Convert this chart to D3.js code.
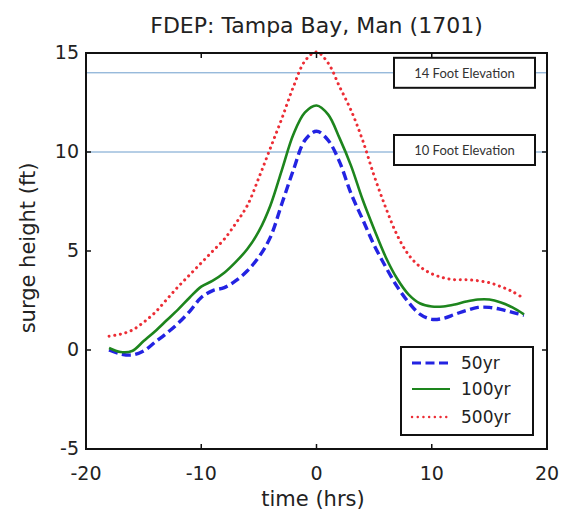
<!DOCTYPE html>
<html>
  <head>
    <meta charset="utf-8">
    <title>FDEP: Tampa Bay, Man (1701)</title>
    <script src="https://d3js.org/d3.v7.min.js"></script>
    <style>
      body { margin: 0; background: white; }
      svg { background-color: white; }
      text { font-family: "DejaVu Sans", sans-serif; fill: #222; }
      .frame { fill: none; stroke: #111; stroke-width: 2px; }
      .tick-mark { stroke: #111; stroke-width: 1.5px; }
      .elev-line { stroke: #6d9dcc; stroke-width: 1px; }
      .elev-box, .legend-box { fill: white; stroke: #111; stroke-width: 2px; }
      .elev-label { font-family: Lato, "Open Sans", sans-serif; font-size: 13px; fill: #333; }
    </style>
  </head>
  <body>
    <svg></svg>
    <script>
      //begin: data
      var times    = [-18,-17,-16,-15,-14,-13,-12,-11,-10,-9,-8,-7,-6,-5,-4,-3,-2,-1,0,
                      1,2,3,4,5,6,7,8,9,10,11,12,13,14,15,16,17,18];
      var surge50  = [0.0,-0.2,-0.25,-0.05,0.4,0.85,1.35,1.95,2.65,3.0,3.15,3.5,4.0,4.7,5.7,7.4,9.1,10.6,11.05,
                      10.6,9.5,7.9,6.6,5.3,4.2,3.2,2.4,1.8,1.55,1.6,1.8,2.0,2.15,2.15,2.05,1.9,1.75];
      var surge100 = [0.1,-0.1,-0.05,0.45,0.95,1.5,2.05,2.65,3.2,3.5,3.9,4.45,5.1,6.0,7.3,9.1,10.9,12.0,12.35,
                      11.9,10.7,9.3,7.6,6.1,4.7,3.6,2.8,2.35,2.2,2.2,2.3,2.45,2.55,2.55,2.4,2.15,1.8];
      var surge500 = [0.7,0.8,1.0,1.4,1.9,2.55,3.2,3.8,4.4,5.0,5.6,6.4,7.3,8.7,10.2,11.7,13.3,14.6,15.05,
                      14.5,13.3,12.1,10.6,8.8,7.2,5.8,4.8,4.2,3.85,3.65,3.55,3.55,3.5,3.4,3.2,2.95,2.6];
      var seriesNames = ["50yr", "100yr", "500yr"];
      var xTicks = [-20, -10, 0, 10, 20];
      var yTicks = [-5, 0, 5, 10, 15];
      var elevations = [14, 10];
      var elevationLabels = ["14 Foot Elevation", "10 Foot Elevation"];
      //end: data

      //begin: layout config.
      var svgWidth = 561,
          svgHeight = 512,
          plot = {left: 86, right: 547, top: 53, bottom: 449};
      var styles = [
        {color: "#2323e2", width: 3.4, dash: "9,4.5", cap: "butt"},
        {color: "#1d851d", width: 2.6, dash: null, cap: "butt"},
        {color: "#ec2d35", width: 3, dash: "0.1,5.6", cap: "round"}
      ];
      //end: layout config.

      var x = d3.scaleLinear().domain([-20, 20]).range([plot.left, plot.right]);
      var y = d3.scaleLinear().domain([-5, 15]).range([plot.bottom, plot.top]);

      var svg = d3.select("svg")
        .attr("width", svgWidth)
        .attr("height", svgHeight);

      // title
      svg.append("text")
        .attr("x", 316.5).attr("y", 33)
        .attr("text-anchor", "middle")
        .style("font-size", "22px")
        .text("FDEP: Tampa Bay, Man (1701)");

      // elevation reference lines
      svg.selectAll(".elev-line")
        .data(elevations)
        .enter().append("line")
          .classed("elev-line", true)
          .attr("x1", plot.left).attr("x2", plot.right)
          .attr("y1", function(d){ return y(d); })
          .attr("y2", function(d){ return y(d); });

      // series
      var allSeries = [surge50, surge100, surge500];
      var line = d3.line()
        .x(function(d, i){ return x(times[i]); })
        .y(function(d){ return y(d); })
        .curve(d3.curveCatmullRom.alpha(0.5));

      svg.append("g").selectAll("path")
        .data(allSeries)
        .enter().append("path")
          .attr("d", function(d){ return line(d); })
          .style("fill", "none")
          .style("stroke", function(d, i){ return styles[i].color; })
          .style("stroke-width", function(d, i){ return styles[i].width; })
          .style("stroke-dasharray", function(d, i){ return styles[i].dash; })
          .style("stroke-linecap", function(d, i){ return styles[i].cap; });

      // elevation label boxes
      var elevBoxes = svg.selectAll(".elev")
        .data(elevations)
        .enter().append("g")
          .attr("transform", function(d, i){ return "translate(" + [394, y(d) - (i == 0 ? 15 : 17)] + ")"; });
      elevBoxes.append("rect")
        .classed("elev-box", true)
        .attr("width", 141).attr("height", 30);
      elevBoxes.append("text")
        .classed("elev-label", true)
        .attr("x", 70.5).attr("y", 20)
        .attr("text-anchor", "middle")
        .text(function(d, i){ return elevationLabels[i]; });

      // frame
      svg.append("rect")
        .classed("frame", true)
        .attr("x", plot.left).attr("y", plot.top)
        .attr("width", plot.right - plot.left)
        .attr("height", plot.bottom - plot.top);

      // inner ticks
      var tickLen = 5;
      var innerX = xTicks.slice(1, -1), innerY = yTicks.slice(1, -1);
      innerX.forEach(function(t){
        svg.append("line").classed("tick-mark", true)
          .attr("x1", x(t)).attr("x2", x(t)).attr("y1", plot.bottom).attr("y2", plot.bottom - tickLen);
        svg.append("line").classed("tick-mark", true)
          .attr("x1", x(t)).attr("x2", x(t)).attr("y1", plot.top).attr("y2", plot.top + tickLen);
      });
      innerY.forEach(function(t){
        svg.append("line").classed("tick-mark", true)
          .attr("x1", plot.left).attr("x2", plot.left + tickLen).attr("y1", y(t)).attr("y2", y(t));
        svg.append("line").classed("tick-mark", true)
          .attr("x1", plot.right).attr("x2", plot.right - tickLen).attr("y1", y(t)).attr("y2", y(t));
      });

      // tick labels
      svg.append("g").selectAll("text")
        .data(xTicks)
        .enter().append("text")
          .attr("x", function(d){ return x(d); })
          .attr("y", 480)
          .attr("text-anchor", "middle")
          .style("font-size", "19px")
          .text(function(d){ return d < 0 ? "-" + Math.abs(d) : d; });

      svg.append("g").selectAll("text")
        .data(yTicks)
        .enter().append("text")
          .attr("x", 79)
          .attr("y", function(d){ return y(d) + 6; })
          .attr("text-anchor", "end")
          .style("font-size", "19px")
          .text(function(d){ return d < 0 ? "-" + Math.abs(d) : d; });

      // axis titles
      svg.append("text")
        .attr("x", 313).attr("y", 506)
        .attr("text-anchor", "middle")
        .style("font-size", "21px")
        .text("time (hrs)");

      svg.append("text")
        .attr("transform", "translate(35,248) rotate(-90)")
        .attr("text-anchor", "middle")
        .style("font-size", "21px")
        .text("surge height (ft)");

      // legend
      var legend = svg.append("g").attr("transform", "translate(401,347)");
      legend.append("rect")
        .classed("legend-box", true)
        .attr("width", 132).attr("height", 88);
      var rows = legend.selectAll(".row")
        .data(seriesNames)
        .enter().append("g")
          .attr("transform", function(d, i){ return "translate(0," + [16, 42, 70][i] + ")"; });
      rows.append("line")
        .attr("x1", 11).attr("x2", 49)
        .style("stroke", function(d, i){ return styles[i].color; })
        .style("stroke-width", function(d, i){ return styles[i].width - 0.6; })
        .style("stroke-dasharray", function(d, i){ return styles[i].dash; })
        .style("stroke-linecap", function(d, i){ return styles[i].cap; });
      rows.append("text")
        .attr("x", 60).attr("y", 6)
        .style("font-size", "17px")
        .text(function(d){ return d; });
    </script>
  </body>
</html>
